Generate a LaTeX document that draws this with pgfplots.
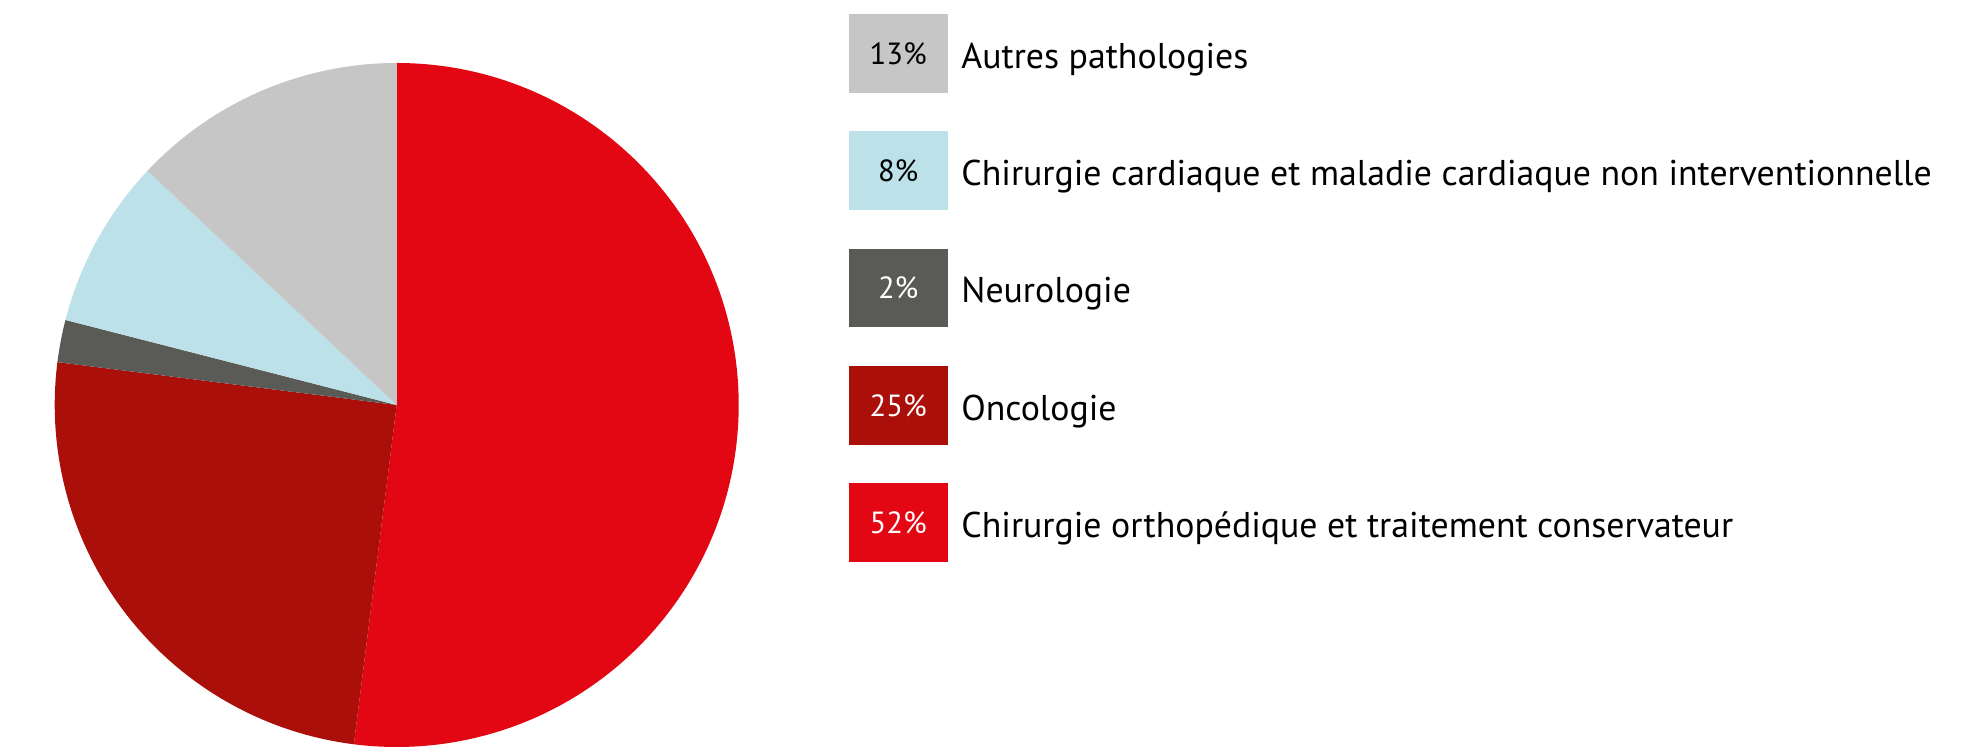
\documentclass[border=0pt]{standalone}
\usepackage{pgfplots}
\pgfplotsset{compat=1.18}
\usepackage{fontspec}
\setmainfont{PT Sans}
\definecolor{cRed}{HTML}{E30613}
\definecolor{cDarkRed}{HTML}{AA0F0A}
\definecolor{cDarkGrey}{HTML}{5A5B56}
\definecolor{cLightBlue}{HTML}{BDE1E8}
\definecolor{cGrey}{HTML}{C6C6C6}
\begin{document}
\begin{tikzpicture}
\begin{axis}[
  width=989pt, height=374.5pt, scale only axis,
  xmin=0, xmax=1978, ymin=0, ymax=749,
  hide axis, clip=false,
]
% pie: values 52, 25, 2, 8, 13 (percent), clockwise from top
\fill[cRed] (axis cs:396.7,344) -- ++(90:171pt) arc[start angle=90, end angle={90-3.6*52}, radius=171pt] -- cycle;
\fill[cDarkRed] (axis cs:396.7,344) -- ++({90-3.6*52}:171pt) arc[start angle={90-3.6*52}, end angle={90-3.6*(52+25)}, radius=171pt] -- cycle;
\fill[cDarkGrey] (axis cs:396.7,344) -- ++({90-3.6*77}:171pt) arc[start angle={90-3.6*77}, end angle={90-3.6*(77+2)}, radius=171pt] -- cycle;
\fill[cLightBlue] (axis cs:396.7,344) -- ++({90-3.6*79}:171pt) arc[start angle={90-3.6*79}, end angle={90-3.6*(79+8)}, radius=171pt] -- cycle;
\fill[cGrey] (axis cs:396.7,344) -- ++({90-3.6*87}:171pt) arc[start angle={90-3.6*87}, end angle={90-3.6*(87+13)}, radius=171pt] -- cycle;
% legend
\fill[cGrey] (axis cs:849,656.3) rectangle (axis cs:947.5,735);
\fill[cLightBlue] (axis cs:849,538.9) rectangle (axis cs:947.5,617.6);
\fill[cDarkGrey] (axis cs:849,421.6) rectangle (axis cs:947.5,500.3);
\fill[cDarkRed] (axis cs:849,304.3) rectangle (axis cs:947.5,383);
\fill[cRed] (axis cs:849,187) rectangle (axis cs:947.5,265.7);
\node[font=\fontsize{15.3}{17}\selectfont, text=black, anchor=base, inner sep=0pt] at (axis cs:898.2,684.7) {13\%};
\node[font=\fontsize{15.3}{17}\selectfont, text=black, anchor=base, inner sep=0pt] at (axis cs:898.2,567.3) {8\%};
\node[font=\fontsize{15.3}{17}\selectfont, text=white, anchor=base, inner sep=0pt] at (axis cs:898.2,450) {2\%};
\node[font=\fontsize{15.3}{17}\selectfont, text=white, anchor=base, inner sep=0pt] at (axis cs:898.2,332.7) {25\%};
\node[font=\fontsize{15.3}{17}\selectfont, text=white, anchor=base, inner sep=0pt] at (axis cs:898.2,215.3) {52\%};
\node[font=\fontsize{17.9}{21}\selectfont, anchor=base west, inner sep=0pt] at (axis cs:961,680.7) {Autres pathologies};
\node[font=\fontsize{17.9}{21}\selectfont, anchor=base west, inner sep=0pt] at (axis cs:961,563.3) {Chirurgie cardiaque et maladie cardiaque non interventionnelle};
\node[font=\fontsize{17.9}{21}\selectfont, anchor=base west, inner sep=0pt] at (axis cs:961,446) {Neurologie};
\node[font=\fontsize{17.9}{21}\selectfont, anchor=base west, inner sep=0pt] at (axis cs:961,328.7) {Oncologie};
\node[font=\fontsize{17.9}{21}\selectfont, anchor=base west, inner sep=0pt] at (axis cs:961,211.3) {Chirurgie orthopédique et traitement conservateur};
\end{axis}
\pgfresetboundingbox
\useasboundingbox (current axis.south west) rectangle (current axis.north east);
\end{tikzpicture}
\end{document}
